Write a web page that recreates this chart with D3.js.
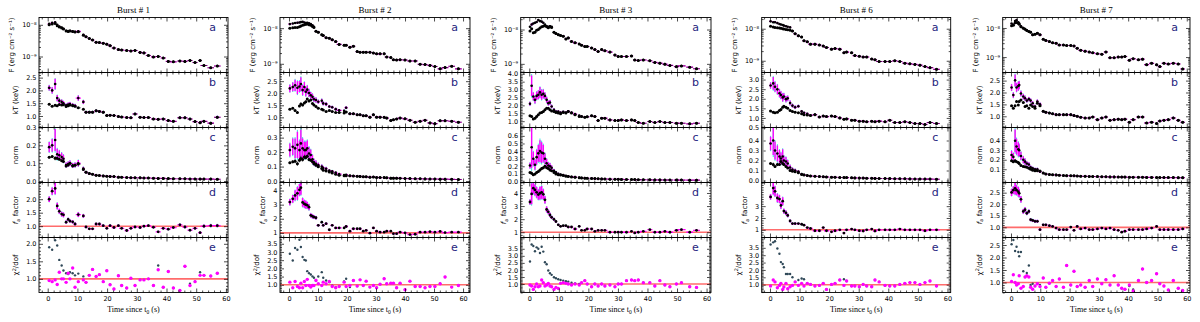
<!DOCTYPE html>
<html><head><meta charset="utf-8">
<script src="https://cdn.jsdelivr.net/npm/d3@7"></script>
<style>body{margin:0;background:#fff}svg{display:block}</style>
</head><body>
<svg id="c" width="1200" height="322"></svg>
<script>
// ---------------- DATA ----------------
const titles = ["Burst # 1", "Burst # 2", "Burst # 3", "Burst # 6", "Burst # 7"];
const fluxTickVals = [1, 10];                 // flux in units of 1e-9 erg cm^-2 s^-1
const fluxTickLabels = ["10⁻⁹", "10⁻⁸"];
const xTicks = [0, 10, 20, 30, 40, 50, 60];
const yTicksKT = [[1,1.5,2,2.5],[1,1.5,2,2.5],[1,1.5,2,2.5,3,3.5,4],[0.5,1,1.5,2,2.5,3],[1,1.5,2,2.5]];
const yTicksNorm = [[0,0.1,0.2,0.3],[0,0.1,0.2,0.3],[0,0.1,0.2,0.3,0.4,0.5,0.6],[0,0.1,0.2,0.3,0.4],[0.1,0.2,0.3,0.4]];
const yTicksFa = [[1,1.5,2],[1,2,3,4],[1,2,3,4],[1,2,3],[1,1.5,2,2.5]];
const yTicksChi = [[1,1.5,2],[1,1.5,2,2.5,3,3.5],[1,1.5,2,2.5,3,3.5],[1,1.5,2,2.5,3,3.5],[1,1.5,2,2.5]];

// Burst 1
const t1 = [0.5,1.5,2.5,3.2,3.9,4.7,5.3,6.2,6.9,7.5,8.4,9.2,10.3,12.0,12.9,14,15.1,16.3,17.4,18.7,19.9,21,22.3,23.8,24.9,26.6,28,29.4,31.1,32.4,33.9,35.6,37.2,38.9,40.6,42.3,44.5,46.2,47.9,49.6,51.3,52.6,54.9,57.1];
const fluxM1 = [10.7,11.5,12,10,8.8,8.2,7.5,6.5,6.3,6.5,6.2,6.0,6.2,4.8,4.2,3.7,3.3,2.8,2.75,2.6,2.45,2.2,1.85,1.65,1.6,1.55,1.5,1.55,1.35,1.3,1.08,0.97,1.0,0.9,0.7,0.68,0.72,0.7,0.75,0.65,0.75,0.52,0.44,0.5];
const fluxB1 = [10.0,10.6,11,9.4,8.5,8.0,7.4,6.4,6.2,6.4,6.1,5.9,6.0,4.7,4.2,3.7,3.3,2.8,2.75,2.6,2.45,2.2,1.85,1.65,1.6,1.55,1.5,1.55,1.35,1.3,1.08,0.97,1.0,0.9,0.7,0.68,0.72,0.7,0.75,0.65,0.75,0.52,0.44,0.5];
const kTM1 = [2.1,2.0,2.25,1.7,1.6,1.55,1.5,1.42,1.45,1.47,1.43,1.4,1.7,1.55,1.15,1.15,1.15,1.2,1.18,1.15,1.02,1.03,1.02,0.98,0.96,0.94,0.93,1.08,0.95,0.94,0.94,0.88,0.87,0.88,0.82,0.79,0.93,0.93,0.88,0.78,0.74,0.79,0.72,0.95];
const kTB1 = [1.46,1.38,1.42,1.4,1.45,1.43,1.44,1.37,1.4,1.43,1.4,1.38,1.32,1.26,1.15,1.15,1.15,1.2,1.18,1.15,1.02,1.03,1.02,0.98,0.96,0.94,0.93,1.08,0.95,0.94,0.94,0.88,0.87,0.88,0.82,0.79,0.93,0.93,0.88,0.78,0.74,0.79,0.72,0.95];
const normM1 = [0.19,0.2,0.23,0.15,0.145,0.135,0.125,0.09,0.095,0.1,0.088,0.09,0.1,0.07,0.05,0.042,0.038,0.032,0.031,0.029,0.027,0.026,0.025,0.022,0.021,0.02,0.019,0.019,0.018,0.017,0.017,0.016,0.015,0.015,0.014,0.013,0.013,0.013,0.012,0.012,0.011,0.011,0.011,0.01];
const normB1 = [0.133,0.137,0.128,0.128,0.122,0.114,0.11,0.084,0.09,0.1,0.084,0.088,0.095,0.065,0.05,0.042,0.038,0.032,0.031,0.029,0.027,0.026,0.025,0.022,0.021,0.02,0.019,0.019,0.018,0.017,0.017,0.016,0.015,0.015,0.014,0.013,0.013,0.013,0.012,0.012,0.011,0.011,0.011,0.01];
const fa1 = [2.0,2.3,2.4,1.75,1.55,1.45,1.42,1.15,1.25,1.19,1.16,1.08,1.43,1.38,0.97,0.9,0.9,1.08,1.08,1.02,0.92,1.02,0.95,1.02,0.92,0.84,0.92,0.97,0.95,1.0,1.02,0.96,0.79,0.92,0.89,0.95,1.05,0.97,0.85,0.92,0.76,1.0,1.02,1.02];
const chiM1 = [0.95,0.92,0.97,0.84,1.19,1.0,1.0,0.9,1.16,1.0,1.31,0.76,0.92,0.97,0.9,1.1,1.27,1.07,1.12,0.92,1.23,0.83,0.71,1.09,0.81,0.74,1.02,0.81,0.97,0.97,1.0,0.81,1.26,0.76,1.21,0.74,0.67,1.36,0.81,0.92,1.1,1.1,1.08,1.16];
const chiB1 = [1.9,1.83,2.1,1.95,1.54,1.38,1.24,1.16,1.14,1.19,1.16,1.1,1.15,1.07,0.9,1.1,1.27,1.07,1.12,0.92,1.23,0.83,0.71,1.09,0.81,0.74,1.02,0.81,0.97,0.97,1.0,0.81,1.38,0.76,1.21,0.74,0.67,1.36,0.86,0.92,1.19,1.1,1.08,1.16];
const err1 = [0.05,0.06,0.09,0.07,0.06,0.06,0.06,0.05,0.05,0.05,0.05,0.05,0.06,0.05,0.04,0.04,0.04,0.04,0.04,0.04,0.04,0.04,0.04,0.04,0.04,0.04,0.04,0.04,0.04,0.04,0.04,0.04,0.05,0.05,0.05,0.05,0.05,0.05,0.05,0.05,0.05,0.06,0.06,0.06];

// Burst 2
const t2 = [0.3,1.3,2.1,2.9,3.6,4.1,4.7,5.3,5.8,6.3,6.9,7.5,8.1,8.6,9.3,10.1,11.3,11.8,12.8,13.9,14.9,16.1,17.3,19,19.7,21,22.2,23.5,24.5,25.6,26.6,27.9,29.1,30.2,31.4,32.8,33.7,35.1,36,37.1,38.3,40,41.7,43.5,45.2,46.9,48.6,50.3,52.1,53.8,56.1,58.4];
const fluxM2 = [13,13.5,14,14.2,14.5,14.8,15,14.5,14,14.2,13.8,13,12,11,8.2,7.7,6.5,6.2,5.4,5.2,4.7,4.2,3.5,3.3,3.3,2.9,3.1,2.2,2.1,2.1,2.1,2.1,2.0,1.9,1.9,1.9,1.55,1.5,1.3,1.28,1.3,1.28,1.2,1.2,0.97,0.95,0.9,0.84,0.72,0.78,0.85,0.72];
const fluxB2 = [10,10.2,10.5,10.5,11,11.5,12,12.5,12.8,13,12.5,12,11.2,10.5,8.2,7.7,6.5,6.2,5.4,5.2,4.7,4.2,3.5,3.3,3.3,2.9,3.1,2.2,2.1,2.1,2.1,2.1,2.0,1.9,1.9,1.9,1.55,1.5,1.3,1.28,1.3,1.28,1.2,1.2,0.97,0.95,0.9,0.84,0.72,0.78,0.85,0.72];
const kTM2 = [2.2,2.26,2.33,2.23,2.28,2.38,2.13,2.26,2.06,2.15,2.01,1.92,1.85,1.75,1.72,1.65,1.69,1.58,1.55,1.45,1.42,1.34,1.29,1.27,1.4,1.15,1.15,1.11,1.11,1.07,1.07,1.01,1.11,1.01,1.01,1.0,0.97,0.87,0.9,0.93,0.97,0.94,0.88,0.8,0.84,0.88,0.77,0.74,0.86,0.86,0.84,0.8];
const kTB2 = [1.34,1.38,1.28,1.2,1.47,1.55,1.51,1.6,1.65,1.76,1.68,1.72,1.58,1.51,1.45,1.38,1.34,1.31,1.24,1.28,1.24,1.2,1.2,1.18,1.22,1.15,1.15,1.11,1.11,1.07,1.07,1.01,1.11,1.01,1.01,1.0,0.97,0.87,0.9,0.93,0.97,0.94,0.88,0.8,0.84,0.88,0.77,0.74,0.86,0.86,0.84,0.8];
const normM2 = [0.214,0.237,0.226,0.25,0.214,0.26,0.226,0.214,0.214,0.226,0.19,0.18,0.15,0.13,0.12,0.11,0.1,0.09,0.085,0.072,0.068,0.058,0.048,0.042,0.044,0.036,0.035,0.033,0.032,0.03,0.029,0.027,0.028,0.025,0.024,0.024,0.022,0.02,0.02,0.02,0.019,0.018,0.017,0.016,0.016,0.015,0.014,0.014,0.013,0.013,0.012,0.011];
const normB2 = [0.126,0.133,0.137,0.12,0.144,0.156,0.149,0.167,0.163,0.172,0.149,0.144,0.133,0.12,0.11,0.098,0.086,0.074,0.07,0.063,0.056,0.047,0.04,0.036,0.036,0.036,0.035,0.033,0.032,0.03,0.029,0.027,0.028,0.025,0.024,0.024,0.022,0.02,0.02,0.02,0.019,0.018,0.017,0.016,0.016,0.015,0.014,0.014,0.013,0.013,0.012,0.011];
const fa2 = [3.18,3.41,3.65,3.8,4.05,4.2,3.16,3.05,3.0,2.95,2.82,2.24,2.17,2.12,2.07,1.53,1.76,1.53,1.65,1.22,1.53,1.35,1.35,1.35,1.45,1.12,1.29,1.29,1.29,1.12,1.17,0.98,1.35,1.12,1.05,1.05,1.12,1.12,0.94,0.94,1.05,1.0,0.88,0.9,1.05,1.05,1.08,1.05,1.1,1.02,1.05,1.05];
const chiM2 = [1.16,0.82,1.2,0.9,0.82,1.1,0.82,1.2,0.96,1.33,0.96,0.86,0.96,0.96,1.26,1.06,0.96,1.16,1.06,1.2,0.9,0.82,0.9,1.16,0.9,0.96,1.26,0.92,1.3,0.96,1.22,0.86,0.96,0.82,1.04,1.37,1.06,1.1,1.1,0.82,1.1,0.7,1.22,0.9,0.9,0.82,0.9,0.9,1.06,1.47,0.86,0.96];
const chiB2 = [2.89,2.48,3.24,3.13,3.74,3.3,2.69,2.52,2.48,1.83,1.71,1.63,1.51,1.43,1.3,1.5,1.77,1.43,1.26,1.16,0.95,0.85,0.92,1.2,1.37,0.86,1.26,0.92,1.3,0.96,1.22,0.86,0.96,0.82,1.04,1.37,1.06,1.1,1.1,0.82,1.1,0.7,1.22,0.9,0.9,0.82,0.9,0.9,1.06,1.47,0.86,0.96];
const err2 = [0.07,0.08,0.1,0.12,0.1,0.12,0.1,0.09,0.09,0.08,0.08,0.07,0.07,0.06,0.06,0.05,0.05,0.05,0.05,0.04,0.04,0.04,0.04,0.04,0.04,0.04,0.04,0.04,0.04,0.04,0.04,0.04,0.04,0.04,0.04,0.04,0.04,0.04,0.04,0.04,0.04,0.04,0.04,0.04,0.04,0.04,0.04,0.05,0.05,0.05,0.05,0.05];

// Burst 3
const t3 = [0.24,0.8,1.37,1.93,2.49,3.06,3.62,4.19,4.75,5.31,5.88,6.44,7.0,7.57,8.36,9.03,9.82,10.6,11.5,12.4,13.2,14.3,15.5,16.9,17.7,18.8,19.6,21.1,22.2,23.3,24.5,25.6,27.3,29.0,30.1,31.2,32.9,34.6,35.7,36.9,38.6,40.8,42.5,44.2,45.9,47.6,49.8,51.5,54.3,56.6];
const fluxM3 = [12,14,15,15.7,16.5,18.8,17.6,17,15.7,14,12.5,12,12.5,12,8.3,7.6,7.1,6.7,6.4,5.3,5.7,4.5,4.1,3.8,3.5,3.2,3.2,2.9,2.6,2.3,2.6,2.4,2.2,1.8,1.64,1.64,1.64,1.7,1.3,1.25,1.3,1.23,1.1,1.05,0.98,0.9,0.83,0.87,0.8,0.72];
const fluxB3 = [9,10.5,8,8.3,9.5,10,11,12,12.5,13,12,11.2,12,11.5,8.3,7.6,7.1,6.7,6.4,5.3,5.7,4.5,4.1,3.8,3.5,3.2,3.2,2.9,2.6,2.3,2.6,2.4,2.2,1.8,1.64,1.64,1.64,1.7,1.3,1.25,1.3,1.23,1.1,1.05,0.98,0.9,0.83,0.87,0.8,0.72];
const kTM3 = [2.1,3.24,2.56,2.35,2.6,2.67,2.82,2.67,2.73,2.6,2.35,2.14,2.18,1.93,1.72,1.61,1.61,1.55,1.6,1.55,1.62,1.55,1.45,1.35,1.3,1.25,1.28,1.34,1.3,1.04,1.19,1.19,1.08,1.04,1.04,1.08,1.04,1.08,1.04,0.92,0.87,0.98,0.92,0.98,0.92,0.92,0.87,0.87,0.83,0.87];
const kTB3 = [1.34,1.3,1.13,1.19,1.3,1.4,1.51,1.55,1.61,1.72,1.82,1.82,1.72,1.65,1.61,1.55,1.51,1.47,1.55,1.51,1.61,1.51,1.4,1.3,1.3,1.25,1.28,1.34,1.3,1.04,1.19,1.19,1.08,1.04,1.04,1.08,1.04,1.08,1.04,0.92,0.87,0.98,0.92,0.98,0.92,0.92,0.87,0.87,0.83,0.87];
const normM3 = [0.21,0.45,0.3,0.22,0.32,0.37,0.4,0.38,0.37,0.3,0.24,0.21,0.2,0.18,0.14,0.12,0.1,0.09,0.085,0.075,0.07,0.062,0.057,0.052,0.048,0.045,0.043,0.041,0.038,0.036,0.034,0.033,0.031,0.03,0.029,0.028,0.027,0.026,0.025,0.024,0.023,0.022,0.021,0.021,0.02,0.02,0.019,0.019,0.018,0.018];
const normB3 = [0.12,0.11,0.09,0.1,0.12,0.13,0.15,0.17,0.18,0.2,0.18,0.17,0.15,0.14,0.12,0.1,0.09,0.085,0.08,0.07,0.065,0.06,0.055,0.05,0.047,0.044,0.042,0.04,0.038,0.036,0.034,0.033,0.031,0.03,0.029,0.028,0.027,0.026,0.025,0.024,0.023,0.022,0.021,0.021,0.02,0.02,0.019,0.019,0.018,0.018];
const fa3 = [3.31,3.93,4.37,4.23,4.05,3.88,3.98,4.05,3.9,3.48,2.74,2.56,2.32,2.14,1.99,1.82,1.57,1.45,1.5,1.5,1.4,1.4,1.25,1.45,1.15,1.15,1.25,1.25,1.07,1.15,1.15,1.15,1.0,1.0,1.0,1.0,1.0,1.07,0.95,1.0,1.07,1.2,1.0,1.0,1.07,1.0,1.15,1.2,1.0,1.15];
const chiM3 = [0.93,0.86,0.62,0.81,1.0,0.81,0.86,1.29,1.1,0.86,0.93,1.05,0.86,0.81,0.62,0.76,0.69,1.05,1.1,1.05,1.0,0.93,1.0,0.93,1.1,1.24,1.0,0.81,1.0,0.86,1.0,0.86,0.93,0.81,1.0,1.0,1.24,1.29,1.24,1.29,1.1,1.1,0.86,1.24,0.93,0.81,1.0,1.1,0.81,0.76];
const chiB3 = [2.6,3.8,3.7,3.33,3.6,3.5,3.2,3.64,3.3,2.54,2.4,1.96,1.77,1.65,1.48,1.41,1.34,1.29,1.24,1.2,1.17,1.1,1.05,1.0,1.1,1.24,1.0,0.81,1.0,0.86,1.0,0.86,0.93,0.81,1.0,1.0,1.24,1.29,1.24,1.29,1.1,1.1,0.86,1.24,0.93,0.81,1.0,1.1,0.81,0.76];
const err3 = [0.06,0.2,0.1,0.1,0.1,0.1,0.12,0.12,0.1,0.08,0.08,0.07,0.07,0.06,0.06,0.05,0.05,0.05,0.04,0.04,0.04,0.04,0.04,0.04,0.04,0.04,0.04,0.04,0.04,0.04,0.04,0.04,0.04,0.04,0.04,0.04,0.04,0.04,0.04,0.04,0.04,0.04,0.04,0.04,0.04,0.05,0.05,0.05,0.05,0.05];

// Burst 6
const t6 = [0.2,1.1,1.7,2.5,3.2,3.7,4.3,4.7,5.4,6,6.8,7.6,8.5,9.6,10.7,11.5,12.6,13.7,15.2,16.7,18,19.1,20.8,22,23.6,25,25.9,27.6,28.7,30.2,31.5,32.7,34.4,35.5,36.9,38.9,40.5,42.2,43.9,45.6,47.3,49,50.7,52.4,54.1,56.3];
const fluxM6 = [17,16,16,15,14,13.5,13,12.5,12,11.5,11,8.5,7.0,6.0,5.5,4.2,3.9,3.3,3.3,3.1,2.9,2.6,2.3,2.4,2.3,1.77,1.86,1.77,1.45,1.38,1.31,1.31,1.13,1.08,0.95,0.95,0.95,1.0,0.95,0.84,0.8,0.77,0.73,0.66,0.61,0.54];
const fluxB6 = [12,11.3,11,10.8,10.5,10.3,10,9.8,9.5,9.3,9,8.5,7.0,6.0,5.5,4.2,3.9,3.3,3.3,3.1,2.9,2.6,2.3,2.4,2.3,1.77,1.86,1.77,1.45,1.38,1.31,1.31,1.13,1.08,0.95,0.95,0.95,1.0,0.95,0.84,0.8,0.77,0.73,0.66,0.61,0.54];
const kTM6 = [2.69,2.8,2.63,2.49,2.29,2.19,2.07,2.12,1.98,2.02,1.78,1.64,1.56,1.61,1.34,1.27,1.22,1.14,1.17,1.05,1.1,1.07,1.1,1.07,1.0,0.93,0.95,0.88,0.88,0.83,0.83,0.8,0.83,0.8,0.83,0.8,0.88,0.76,0.76,0.8,0.76,0.71,0.71,0.66,0.76,0.71];
const kTB6 = [1.36,1.3,1.27,1.3,1.39,1.44,1.56,1.61,1.56,1.51,1.39,1.34,1.3,1.27,1.22,1.17,1.15,1.12,1.17,1.05,1.1,1.07,1.1,1.07,1.0,0.93,0.95,0.88,0.88,0.83,0.83,0.8,0.83,0.8,0.83,0.8,0.88,0.76,0.76,0.8,0.76,0.71,0.71,0.66,0.76,0.71];
const normM6 = [0.37,0.4,0.3,0.27,0.24,0.22,0.24,0.2,0.19,0.17,0.13,0.11,0.1,0.09,0.065,0.058,0.05,0.045,0.042,0.04,0.038,0.035,0.033,0.032,0.03,0.03,0.029,0.027,0.026,0.025,0.024,0.023,0.022,0.021,0.02,0.02,0.019,0.018,0.017,0.017,0.016,0.015,0.015,0.014,0.014,0.013];
const normB6 = [0.17,0.16,0.14,0.16,0.16,0.19,0.17,0.16,0.14,0.125,0.1,0.093,0.087,0.077,0.06,0.055,0.05,0.045,0.042,0.04,0.038,0.035,0.033,0.032,0.03,0.03,0.029,0.027,0.026,0.025,0.024,0.023,0.022,0.021,0.02,0.02,0.019,0.018,0.017,0.017,0.016,0.015,0.015,0.014,0.014,0.013];
const fa6 = [3.78,4.53,4.25,3.69,3.6,3.06,3.42,2.58,2.44,2.22,1.75,1.53,1.53,1.53,1.47,1.39,1.19,1.11,0.92,0.92,1.19,0.92,0.83,0.92,1.0,0.72,1.0,1.06,1.0,0.92,0.9,1.0,1.06,0.9,1.0,1.0,1.0,1.0,1.06,1.0,1.0,1.0,1.0,0.92,1.0,1.0];
const chiM6 = [0.91,1.32,1.19,0.79,0.95,1.09,0.68,0.84,1.09,0.72,0.86,0.95,1.19,0.95,1.09,0.91,1.09,1.02,0.91,0.95,1.09,0.68,1.02,1.09,1.32,0.95,1.25,0.91,0.91,0.86,1.02,0.91,0.86,1.32,1.19,0.95,0.91,0.91,1.02,1.09,1.14,1.14,1.02,1.14,1.25,0.91];
const chiB6 = [3.73,3.87,3.95,3.45,3.1,2.53,2.4,2.18,1.72,1.72,1.72,1.5,1.19,1.32,1.42,1.37,1.09,1.02,0.91,0.95,1.09,0.68,1.02,1.09,1.32,1.37,1.25,0.91,0.91,0.86,1.02,0.91,0.86,1.32,1.19,0.95,0.91,0.91,1.02,1.09,1.14,1.14,1.02,1.14,1.25,0.91];
const err6 = [0.06,0.12,0.1,0.1,0.09,0.09,0.1,0.08,0.08,0.07,0.07,0.06,0.06,0.05,0.05,0.04,0.04,0.04,0.04,0.04,0.04,0.04,0.04,0.04,0.04,0.04,0.04,0.04,0.04,0.04,0.04,0.04,0.04,0.04,0.04,0.04,0.04,0.04,0.04,0.04,0.04,0.05,0.05,0.05,0.05,0.05];

// Burst 7
const t7 = [0.2,0.8,1.4,1.9,2.5,2.8,3.4,4.2,4.8,5.4,6.1,6.7,7.4,8.2,9,9.9,11,11.9,13.1,14.2,15.4,16.5,17.9,19,20.4,21.5,22.6,23.8,25.3,26.7,27.9,29.5,31,32.4,33.8,35.2,36.6,37.8,38.9,40.4,41.7,43.5,44.9,46.3,48,49.7,50.8,52.2,53.7,55.4,57.1,58.6];
const fluxM7 = [14.2,13.1,17.2,18.6,15.8,14.2,11.5,10,9.2,8.3,7.6,7.2,5.8,6.1,6.6,5.8,4.1,3.7,3.4,3.1,3.0,2.6,2.6,2.5,2.5,2.4,2.0,1.7,1.6,1.5,1.4,1.3,1.25,1.5,0.95,0.95,1.0,1.0,1.05,0.77,0.88,0.81,0.85,0.55,0.61,0.54,0.47,0.61,0.58,0.61,0.58,0.39];
const fluxB7 = [12,12.5,15,15.5,14.5,13.5,11,9.8,9,8.2,7.5,7.1,5.8,6.1,6.6,5.8,4.1,3.7,3.4,3.1,3.0,2.6,2.6,2.5,2.5,2.4,2.0,1.7,1.6,1.5,1.4,1.3,1.25,1.5,0.95,0.95,1.0,1.0,1.05,0.77,0.88,0.81,0.85,0.55,0.61,0.54,0.47,0.61,0.58,0.61,0.58,0.39];
const kTM7 = [2.21,1.89,2.51,2.21,2.27,2.31,1.96,1.83,1.76,1.66,1.72,1.66,1.55,1.41,1.62,1.5,1.21,1.17,1.14,1.11,1.07,1.07,1.07,1.07,1.07,1.03,1.0,0.96,0.93,0.93,0.97,0.86,0.93,0.97,0.83,0.86,0.88,0.86,0.88,0.75,0.86,0.97,0.97,0.72,0.75,0.7,0.8,0.83,0.86,0.93,0.83,0.75];
const kTB7 = [1.44,1.34,1.44,1.62,1.48,1.62,1.69,1.58,1.41,1.44,1.34,1.48,1.41,1.34,1.55,1.44,1.21,1.17,1.14,1.11,1.07,1.07,1.07,1.07,1.07,1.03,1.0,0.96,0.93,0.93,0.97,0.86,0.93,0.97,0.83,0.86,0.88,0.86,0.88,0.75,0.86,0.97,0.97,0.72,0.75,0.7,0.8,0.83,0.86,0.93,0.83,0.75];
const normM7 = [0.25,0.23,0.4,0.34,0.31,0.3,0.24,0.2,0.18,0.16,0.15,0.12,0.11,0.1,0.1,0.075,0.06,0.05,0.045,0.042,0.04,0.036,0.034,0.032,0.031,0.03,0.028,0.026,0.025,0.024,0.023,0.022,0.021,0.02,0.019,0.019,0.018,0.017,0.017,0.016,0.016,0.015,0.015,0.014,0.014,0.013,0.013,0.012,0.012,0.012,0.011,0.011];
const normB7 = [0.19,0.18,0.19,0.18,0.17,0.16,0.14,0.13,0.125,0.12,0.11,0.1,0.09,0.085,0.085,0.08,0.06,0.05,0.045,0.042,0.04,0.036,0.034,0.032,0.031,0.03,0.028,0.026,0.025,0.024,0.023,0.022,0.021,0.02,0.019,0.019,0.018,0.017,0.017,0.016,0.016,0.015,0.015,0.014,0.014,0.013,0.013,0.012,0.012,0.012,0.011,0.011];
const fa7 = [2.51,2.61,2.69,2.61,2.54,2.47,2.21,1.69,1.76,1.61,1.69,1.33,1.3,1.26,1.26,0.9,1.11,1.11,1.07,1.04,0.97,0.9,0.9,0.9,1.01,0.87,1.04,0.93,0.97,0.9,0.9,0.93,0.97,0.93,0.97,0.9,0.87,0.79,0.83,0.9,0.9,0.9,0.9,0.93,0.97,1.04,0.9,0.9,0.9,0.9,0.9,0.93];
const chiM7 = [1.04,1.31,1.0,0.9,0.95,1.27,0.77,0.84,1.22,1.27,1.22,0.81,0.73,0.86,0.95,0.84,1.18,0.81,0.97,1.08,0.84,1.14,0.81,1.68,0.9,1.45,0.84,0.9,0.81,1.08,0.84,1.14,0.95,1.11,0.9,1.27,0.9,0.77,0.73,0.9,0.66,1.08,1.54,1.0,1.08,1.35,0.95,0.86,0.7,1.08,0.77,0.68];
const chiB7 = [2.53,2.7,2.26,2.43,2.22,2.05,2.22,1.45,1.22,1.38,1.68,0.9,0.95,0.86,0.95,0.9,1.18,0.81,0.97,1.08,0.84,1.14,0.81,1.68,0.9,1.45,0.84,0.9,0.81,1.08,0.84,1.14,0.95,1.11,0.9,1.27,0.9,0.77,0.73,0.86,0.72,1.08,1.54,1.0,1.08,1.35,0.95,0.86,0.7,1.08,0.77,0.68];
const err7 = [0.06,0.06,0.1,0.08,0.08,0.07,0.06,0.06,0.06,0.05,0.05,0.05,0.05,0.05,0.05,0.05,0.04,0.04,0.04,0.04,0.04,0.04,0.04,0.04,0.04,0.04,0.04,0.04,0.04,0.04,0.04,0.04,0.04,0.04,0.04,0.04,0.04,0.04,0.04,0.04,0.04,0.04,0.04,0.04,0.04,0.04,0.04,0.05,0.05,0.05,0.05,0.05];

// ---------------- LAYOUT ----------------
const colL = [39, 280, 520.7, 761.7, 1002.7];
const colR = [228, 470, 711, 950.7, 1190];
const xDom = [[-2.93,60.7],[-3.1,62.4],[-2.9,61.5],[-2.8,61.1],[-2.83,61.1]];
const PT = [17.5, 72.5, 127.5, 182.5, 237.5], PH = 55;
const yDomFlux = [[0.313,17],[0.569,19.95],[0.56,22.4],[0.43,22.4],[0.295,22.9]];
const yDomKT = [[0.55,2.7],[0.58,2.86],[0.6,4.08],[0.5,3.37],[0.53,2.84]];
const yDomNorm = [[-0.008,0.3],[-0.01,0.37],[-0.013,0.71],[-0.02,0.53],[-0.04,0.54]];
const yDomFa = [[0.58,2.62],[0.67,4.57],[0.6,4.8],[0.35,5.0],[0.56,2.94]];
const yDomChi = [[0.61,2.18],[0.53,3.88],[0.4,4.3],[0.47,4.2],[0.6,2.8]];

const bursts = [
  {t:t1,fluxM:fluxM1,fluxB:fluxB1,kTM:kTM1,kTB:kTB1,normM:normM1,normB:normB1,fa:fa1,chiM:chiM1,chiB:chiB1,err:err1},
  {t:t2,fluxM:fluxM2,fluxB:fluxB2,kTM:kTM2,kTB:kTB2,normM:normM2,normB:normB2,fa:fa2,chiM:chiM2,chiB:chiB2,err:err2},
  {t:t3,fluxM:fluxM3,fluxB:fluxB3,kTM:kTM3,kTB:kTB3,normM:normM3,normB:normB3,fa:fa3,chiM:chiM3,chiB:chiB3,err:err3},
  {t:t6,fluxM:fluxM6,fluxB:fluxB6,kTM:kTM6,kTB:kTB6,normM:normM6,normB:normB6,fa:fa6,chiM:chiM6,chiB:chiB6,err:err6},
  {t:t7,fluxM:fluxM7,fluxB:fluxB7,kTM:kTM7,kTB:kTB7,normM:normM7,normB:normB7,fa:fa7,chiM:chiM7,chiB:chiB7,err:err7}
];

const MAG = "#ff00ff", CYAN = "#3fe0e0", CHIB = "#2f4858", RED = "#ff5c5c", NAVY = "#1f2580";
const SANS = "DejaVu Sans, sans-serif", SERIF = "Liberation Serif, DejaVu Serif, serif";
const svg = d3.select("#c");

function minorLinear(dom, ticks) {
  const st = (ticks[1] - ticks[0]) / 5, out = [];
  for (let k = Math.ceil(dom[0] / st - 1e-9); k * st <= dom[1] + 1e-9; k++) {
    const v = +(k * st).toFixed(6);
    if (!ticks.some(tk => Math.abs(tk - v) < 1e-6)) out.push(v);
  }
  return out;
}
function minorLog(dom) {
  const out = [];
  for (let k = Math.floor(Math.log10(dom[0])); k <= Math.ceil(Math.log10(dom[1])); k++)
    for (let m = 2; m <= 9; m++) { const v = m * Math.pow(10, k); if (v >= dom[0] && v <= dom[1]) out.push(v); }
  return out;
}

function yLabel(sel, kind) {
  if (kind === "flux") sel.text("F (erg cm⁻² s⁻¹)");
  else if (kind === "kT") sel.text("kT (keV)");
  else if (kind === "norm") sel.text("norm");
  else if (kind === "fa") {
    sel.append("tspan").attr("font-style", "italic").text("f");
    sel.append("tspan").attr("font-size", 5).attr("dy", 1.6).text("a");
    sel.append("tspan").attr("dy", -1.6).text(" factor");
  } else {
    sel.append("tspan").text("χ");
    sel.append("tspan").attr("font-size", 5).attr("dy", -2.6).text("2");
    sel.append("tspan").attr("dy", 2.6).text("/dof");
  }
}

let clipN = 0;
function drawPanel(ci, pi, x, hw, b, spec) {
  const L = colL[ci], R = colR[ci], top = PT[pi], bot = top + PH;
  const y = (spec.log ? d3.scaleLog() : d3.scaleLinear()).domain(spec.dom).range([bot, top]);
  const g = svg.append("g");
  const cid = "clip" + (clipN++);
  svg.append("clipPath").attr("id", cid).append("rect").attr("x", L).attr("y", top).attr("width", R - L).attr("height", PH);
  const m = g.append("g").attr("clip-path", `url(#${cid})`);
  if (spec.ref) m.append("line").attr("x1", L).attr("x2", R).attr("y1", y(1)).attr("y2", y(1))
      .attr("stroke", RED).attr("stroke-width", 1.6).attr("opacity", 0.9);

  spec.series.forEach(s => {
    const d = s.v.map((v, i) => ({ t: b.t[i], v, e: s.e ? s.e[i] : 0, hw: hw[i] }));
    const sg = m.append("g");
    if (s.bar) {
      if (s.cyan) sg.selectAll(null).data(d).join("line")
        .attr("x1", p => x(p.t)).attr("x2", p => x(p.t))
        .attr("y1", p => y(p.v - p.e * 1.15)).attr("y2", p => y(p.v + p.e * 1.15))
        .attr("stroke", CYAN).attr("stroke-width", 1.0);
      sg.selectAll(null).data(d).join("line")
        .attr("x1", p => x(p.t)).attr("x2", p => x(p.t))
        .attr("y1", p => y(p.v - p.e)).attr("y2", p => y(p.v + p.e))
        .attr("stroke", s.bar).attr("stroke-width", s.bw);
      sg.selectAll(null).data(d).join("line")
        .attr("x1", p => x(p.t - p.hw)).attr("x2", p => x(p.t + p.hw))
        .attr("y1", p => y(p.v)).attr("y2", p => y(p.v))
        .attr("stroke", s.bar).attr("stroke-width", s.bw * 0.8);
    }
    sg.selectAll(null).data(d).join("circle")
      .attr("cx", p => x(p.t)).attr("cy", p => y(p.v)).attr("r", s.r).attr("fill", s.pt);
  });

  // axes
  const ax = g.append("g");
  const yMajor = spec.log ? fluxTickVals : spec.ticks;
  const yMinor = spec.log ? minorLog(spec.dom) : minorLinear(spec.dom, spec.ticks);
  const yFmt = spec.log ? (v => fluxTickLabels[fluxTickVals.indexOf(v)])
    : (spec.ticks.every(Number.isInteger) ? d3.format("d") : d3.format(".1f"));
  const xMinor = d3.range(-2, 63, 2).filter(v => v >= x.domain()[0] && v <= x.domain()[1] && v % 10 !== 0);
  const none = () => "";
  const la = ax.append("g").attr("transform", `translate(${L},0)`)
    .call(d3.axisLeft(y).tickValues(yMajor).tickSize(-4).tickPadding(2.5).tickFormat(yFmt));
  ax.append("g").attr("transform", `translate(${L},0)`).call(d3.axisLeft(y).tickValues(yMinor).tickSize(-2).tickFormat(none));
  ax.append("g").attr("transform", `translate(${R},0)`).call(d3.axisRight(y).tickValues(yMajor).tickSize(-4).tickFormat(none));
  ax.append("g").attr("transform", `translate(${R},0)`).call(d3.axisRight(y).tickValues(yMinor).tickSize(-2).tickFormat(none));
  ax.append("g").attr("transform", `translate(0,${top})`).call(d3.axisTop(x).tickValues(xTicks).tickSize(-4).tickFormat(none));
  ax.append("g").attr("transform", `translate(0,${top})`).call(d3.axisTop(x).tickValues(xMinor).tickSize(-2).tickFormat(none));
  ax.append("g").attr("transform", `translate(0,${bot})`)
    .call(d3.axisBottom(x).tickValues(xTicks).tickSize(-4).tickPadding(3.5).tickFormat(spec.xlab ? d3.format("d") : none));
  ax.append("g").attr("transform", `translate(0,${bot})`).call(d3.axisBottom(x).tickValues(xMinor).tickSize(-2).tickFormat(none));
  ax.selectAll(".domain").remove();
  ax.selectAll(".tick line").attr("stroke", "#000").attr("stroke-width", 0.7);
  ax.selectAll(".tick text").attr("font-family", SANS).attr("font-size", 6.5).attr("fill", "#000");
  g.append("rect").attr("x", L).attr("y", top).attr("width", R - L).attr("height", PH)
    .attr("fill", "none").attr("stroke", "#000").attr("stroke-width", 0.9);

  // panel letter
  g.append("text").attr("x", R - 15.5).attr("y", top + 13.5).attr("text-anchor", "middle")
    .attr("font-family", SANS).attr("font-size", 11).attr("fill", NAVY).text(spec.letter);

  // y label
  const bb = la.node().getBBox();
  const lx = L + bb.x - 8;
  const yl = g.append("text").attr("transform", `translate(${lx},${top + PH / 2}) rotate(-90)`)
    .attr("text-anchor", "middle").attr("font-family", SANS).attr("font-size", 7).attr("fill", "#000");
  yLabel(yl, spec.kind);
}

bursts.forEach((b, ci) => {
  const x = d3.scaleLinear().domain(xDom[ci]).range([colL[ci], colR[ci]]);
  const n = b.t.length;
  const hw = b.t.map((v, i) => i < n - 1 ? (b.t[i + 1] - v) / 2 : (v - b.t[i - 1]) / 2);
  const eM = k => b[k].map((v, i) => v * b.err[i]);

  svg.append("text").attr("x", (colL[ci] + colR[ci]) / 2).attr("y", 12.5).attr("text-anchor", "middle")
    .attr("font-family", SERIF).attr("font-size", 9).text(titles[ci]);

  const specs = [
    { kind: "flux", letter: "a", log: true, dom: yDomFlux[ci],
      series: [
        { v: b.fluxM, e: eM("fluxM").map(v => v * 0.5), bar: MAG, bw: 1.4, pt: "#000", r: 1.3, cyan: true },
        { v: b.fluxB, e: eM("fluxB").map(v => v * 0.2), bar: "#000", bw: 0.7, pt: "#000", r: 1.5 }] },
    { kind: "kT", letter: "b", dom: yDomKT[ci], ticks: yTicksKT[ci],
      series: [
        { v: b.kTM, e: eM("kTM"), bar: MAG, bw: 1.4, pt: "#000", r: 1.3, cyan: true },
        { v: b.kTB, e: eM("kTB").map(v => v * 0.35), bar: "#000", bw: 0.7, pt: "#000", r: 1.5 }] },
    { kind: "norm", letter: "c", dom: yDomNorm[ci], ticks: yTicksNorm[ci],
      series: [
        { v: b.normM, e: eM("normM").map(v => v * 3), bar: MAG, bw: 1.4, pt: "#000", r: 1.3, cyan: true },
        { v: b.normB, e: eM("normB"), bar: "#000", bw: 0.7, pt: "#000", r: 1.5 }] },
    { kind: "fa", letter: "d", dom: yDomFa[ci], ticks: yTicksFa[ci], ref: true,
      series: [
        { v: b.fa, e: eM("fa"), bar: MAG, bw: 1.6, pt: "#000", r: 1.4, cyan: true }] },
    { kind: "chi", letter: "e", dom: yDomChi[ci], ticks: yTicksChi[ci], ref: true, xlab: true,
      series: [
        { v: b.chiB, pt: CHIB, r: 1.2 },
        { v: b.chiM, pt: MAG, r: 1.7 }] }
  ];
  specs.forEach((s, pi) => drawPanel(ci, pi, x, hw, b, s));

  const xl = svg.append("text").attr("x", (colL[ci] + colR[ci]) / 2).attr("y", 312).attr("text-anchor", "middle")
    .attr("font-family", SERIF).attr("font-size", 8).attr("fill", "#000");
  xl.append("tspan").text("Time since t");
  xl.append("tspan").attr("font-size", 5.5).attr("dy", 1.5).text("0");
  xl.append("tspan").attr("dy", -1.5).text(" (s)");
});
</script>
</body></html>
